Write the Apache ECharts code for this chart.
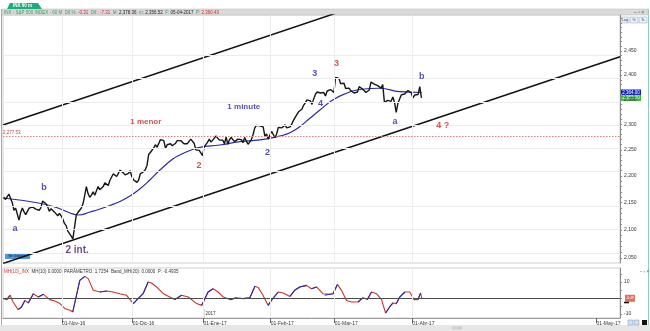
<!DOCTYPE html>
<html><head><meta charset="utf-8">
<script src="https://cdn.jsdelivr.net/npm/echarts@6/dist/echarts.min.js"></script>
<style>html,body{margin:0;padding:0;background:#fff}#c{width:650px;height:331px}</style>
</head><body><div id="c"></div>
<script>
// ---------- DATA ----------
// x unit = trading-day index, 0 = 01-Nov-2016 ; price series: two half-sessions per day, first = 06-Oct-2016 PM
const PRICE_START = -17.25;
const price = [
2160,
2156,2153, 2166,2163, 2150,2136, 2140,2139, 2118,2132, 2140,2133,
2128,2126, 2140,2139, 2142,2144, 2138,2141, 2136,2141,
2153,2151, 2148,2143, 2134,2139, 2142,2133, 2132,2126,
2130,2126,
2120,2112, 2108,2098, 2096,2089, 2084,2085,
2127,2132, 2136,2140, 2148,2163, 2180,2167, 2160,2164,
2170,2164, 2172,2180, 2174,2177, 2180,2187, 2187,2182,
2192,2198, 2204,2203, 2199,2205, 2211,2213,
2206,2202, 2200,2205, 2210,2199, 2193,2191, 2188,2192,
2204,2205, 2208,2212, 2220,2241, 2245,2246, 2254,2260,
2255,2257, 2270,2272, 2268,2253, 2260,2262, 2262,2258,
2260,2263, 2268,2271, 2268,2265, 2262,2261, 2262,2264,
2271,2269, 2263,2250, 2249,2249, 2250,2239,
2256,2258, 2265,2271, 2265,2269, 2273,2277,
2273,2269, 2272,2269, 2262,2275, 2261,2270, 2274,2275,
2266,2268, 2271,2272, 2270,2264, 2274,2271,
2261,2265, 2270,2280, 2293,2298, 2300,2297, 2298,2295,
2277,2281, 2271,2279, 2286,2280, 2274,2281, 2294,2297,
2293,2293, 2299,2293, 2290,2295, 2301,2308, 2314,2316,
2325,2328, 2330,2338, 2343,2349, 2350,2347, 2340,2351,
2360,2365, 2365,2363, 2367,2364, 2357,2367,
2365,2370, 2366,2364, 2395,2396, 2393,2382, 2380,2383,
2372,2375, 2373,2368, 2370,2363, 2360,2365, 2376,2373,
2371,2373, 2364,2365, 2369,2385, 2387,2381, 2384,2378,
2376,2373, 2380,2344, 2343,2348, 2350,2346, 2355,2344,
2324,2342, 2345,2359, 2357,2361, 2364,2368, 2365,2363,
2353,2359, 2355,2360, 2376,2353
];
const maDay = [-17.5,-6.5,-1.2,2.4,5.0,8.3,11.3,14.2,17.2,20.2,23.1,26.1,29.1,32.9,35.0,38.0,40.9,46.9,52.8,58.8,64.7,67.7,70.6,73.6,76.6,80.4,84.5,88.4,94.4,100.3,106.8];
const maVal = [2158.7,2148.9,2140.2,2131.0,2127.3,2132.8,2138.3,2144.8,2152.2,2162.4,2175.5,2192.4,2211.4,2232.4,2240.2,2248.8,2255.0,2259.5,2265.9,2269.3,2277.1,2283.6,2295.4,2312.1,2328.6,2348.8,2362.4,2370.1,2372.6,2365.6,2364.0];
const oscDay = [-17.4,-16.4,-15.4,-14.5,-13.0,-12.0,-11.0,-10.0,-8.5,-7.0,-5.5,-3.6,-2.1,-0.6,0.9,2.4,3.2,4.2,5.3,6.8,7.8,9.3,11.3,13.3,15.2,17.2,19.2,21.2,22.6,24.1,25.6,26.6,28.1,30.1,32.0,33.5,35.5,37.5,40.0,41.5,43.4,44.9,46.4,47.9,49.9,51.8,53.8,55.8,57.3,58.3,59.7,61.2,62.2,64.2,65.7,67.7,69.1,70.6,72.6,74.1,75.6,77.5,78.0,79.5,80.5,81.8,83.0,84.5,86.0,87.9,89.4,90.7,91.9,93.4,94.9,96.1,97.3,98.3,99.3,100.3,101.8,103.3,104.5,105.7,106.5,106.9];
const oscVal = [-0.4,-1.0,1.7,-2.5,-7.3,-5.6,-1.5,-3.1,2.7,0.6,2.3,-1.0,-1.9,-3.5,-6.7,-7.7,-8.75,0.6,11,13.5,12.1,4.8,3.75,4.4,3.75,2.7,1.7,-3.5,-0.4,2.7,10,9.4,6.9,2.7,0.6,-1.0,1.7,0.6,-3.5,-4.6,3.75,5.8,3.75,0.6,-1.0,0.2,-0.4,0.2,7.3,6.5,1.7,-4.6,-1.5,3.75,3.1,1.0,4.8,6.9,7.9,5.8,6.9,2.7,1.7,2.3,2.7,8.5,4.8,-1.5,-2.5,-2.5,0.2,-1.0,3.75,2.7,-1.0,-9.4,-5.6,-3.1,-3.5,0.6,3.75,3.75,-1.0,-1.0,3.1,-0.5];
const monthTickDay = [0,21,42,62,81,104,158.75];
const monthTickLabel = ['01-Nov-16','01-Dic-16','01-Ene-17','01-Feb-17','01-Mar-17','01-Abr-17','01-May-17'];
const priceTicks = [2050,2100,2150,2200,2250,2300,2350,2400,2450];
const oscTicks = [-10,10];
const lowerChannelDay = [-17.5,165.7], lowerChannelPrice = [2040.3,2438.0];
const upperChannelDay = [-17.5,165.7], upperChannelPrice = [2298.8,2747.8];
const supportLevel = 2277.53;
const waveText  = ['a','b','2 int.','1 menor','2','1 minute','2','3','4','3','a','b','4 ?'];
const waveDay   = [-13.9,-5.3,4.5,24.9,40.7,54.0,61.0,75.1,76.8,81.5,98.9,106.8,113.1];
const wavePrice = [2102.7,2178.4,2063.8,2304.5,2220.7,2334.5,2245.7,2401.9,2342.0,2424.2,2305.1,2396.3,2298.6];
const waveDegree= ['minute','minute','intermediate','minor','minor','minute','minute','minute','minute','minor','minute','minute','minor'];
const headerText = ['INX - S&P 500 INDEX - 60 M','-0.31','-7.31','2,378.36','2,356.52','05-04-2017','2,360.43'];

// ---------- STYLE ----------
const FONT = 'Liberation Sans';
const degreeColor = {minute:'#26269e', minor:'#c0282c', intermediate:'#4c1c64'};
const degreeSize = {'2 int.':10,'1 minute':8,'1 menor':8};
const xMin = -17.5, xMax = 165.7;
const yMinPrice = 2041.2, yMaxPrice = 2527.1;
const L = Math.log;

const chart = echarts.init(document.getElementById('c'), null, {renderer:'canvas'});

const priceData = price.map((p,i)=>[PRICE_START + 0.5*i, L(p)]);
const maData = maDay.map((d,i)=>[d, L(maVal[i])]);
const oscData = oscDay.map((d,i)=>[d, oscVal[i]]);
const oscUp = [];
for (let i=0;i<oscDay.length-1;i++){
  if (oscVal[i+1] > oscVal[i]) {
    const last = oscUp[oscUp.length-1];
    if (!last || last[0] !== oscDay[i] || last[1] === '-') {
      if (oscUp.length) oscUp.push([oscDay[i], '-']);
      oscUp.push([oscDay[i], oscVal[i]]);
    }
    oscUp.push([oscDay[i+1], oscVal[i+1]]);
  }
}
const gridV = monthTickDay.slice(0,6).map(d=>({xAxis:d}));
const gridH = priceTicks.map(p=>({yAxis:L(p)}));
const minorTicks = [];
for (let p=2050;p<=2520;p+=10) minorTicks.push(L(p));

const option = {
  animation:false,
  backgroundColor:'#fff',
  textStyle:{fontFamily:FONT},
  grid:[
    {left:3, top:15, width:617, height:248, show:true, borderColor:'#cfcfcf', borderWidth:1},
    {left:3, top:268, width:617, height:50, show:true, borderColor:'#cfcfcf', borderWidth:1}
  ],
  xAxis:[
    {type:'value', gridIndex:0, min:xMin, max:xMax, axisLabel:{show:false}, axisTick:{show:false}, axisLine:{show:false, onZero:false}, splitLine:{show:false}},
    {type:'value', gridIndex:1, min:xMin, max:xMax,
      axisLine:{show:true, onZero:false, lineStyle:{color:'#9a9a9a'}},
      axisTick:{show:true, customValues:monthTickDay, length:5, lineStyle:{color:'#666'}},
      axisLabel:{show:true, customValues:monthTickDay, align:'left', margin:3, fontSize:5, color:'#333', fontFamily:FONT,
        formatter:(v)=>{let k=0,b=1e9;monthTickDay.forEach((d,i)=>{if(Math.abs(d-v)<b){b=Math.abs(d-v);k=i;}});return monthTickLabel[k];}},
      splitLine:{show:false}}
  ],
  yAxis:[
    {type:'value', gridIndex:0, position:'right', min:L(yMinPrice), max:L(yMaxPrice),
      axisLine:{show:true, onZero:false, lineStyle:{color:'#8a8a8a'}},
      axisTick:{show:true, customValues:minorTicks, length:2, lineStyle:{color:'#888'}},
      axisLabel:{show:true, customValues:priceTicks.map(L), margin:4, fontSize:5, color:'#333', fontFamily:FONT,
        formatter:(v)=>Math.round(Math.exp(v)).toLocaleString('en-US')},
      splitLine:{show:false}},
    {type:'value', gridIndex:1, position:'right', min:-12.5, max:18.75,
      axisLine:{show:true, onZero:false, lineStyle:{color:'#8a8a8a'}},
      axisTick:{show:true, customValues:[-10,-5,0,5,10,15], length:2, lineStyle:{color:'#888'}},
      axisLabel:{show:true, customValues:oscTicks, margin:4, fontSize:5, color:'#333', fontFamily:FONT},
      splitLine:{show:false}}
  ],
  series:[
    {type:'line', name:'grid', xAxisIndex:0, yAxisIndex:0, data:[], z:0, silent:true,
      markLine:{silent:true, symbol:'none', label:{show:false}, lineStyle:{color:'#ececec', width:1, type:'solid'}, data:gridV.concat(gridH)}},
    {type:'line', name:'upper', xAxisIndex:0, yAxisIndex:0, data:upperChannelDay.map((d,i)=>[d,L(upperChannelPrice[i])]), symbol:'none', clip:true, z:2,
      lineStyle:{color:'#111', width:1.5}},
    {type:'line', name:'lower', xAxisIndex:0, yAxisIndex:0, data:lowerChannelDay.map((d,i)=>[d,L(lowerChannelPrice[i])]), symbol:'none', clip:true, z:2,
      lineStyle:{color:'#111', width:1.5},
      markLine:{silent:true, symbol:'none', lineStyle:{color:'#d98080', width:1.2, type:[1.5,1.5]},
        label:{show:true, position:'insideStartTop', formatter:supportLevel.toLocaleString('en-US',{minimumFractionDigits:2}), fontSize:4.5, color:'#c04040', distance:[0,1]},
        data:[{yAxis:L(supportLevel)}]}},
    {type:'line', name:'ma', xAxisIndex:0, yAxisIndex:0, data:maData, smooth:true, symbol:'none', z:3,
      lineStyle:{color:'#2b2ba6', width:1.2}},
    {type:'line', name:'price', xAxisIndex:0, yAxisIndex:0, data:priceData, symbol:'none', z:4,
      lineStyle:{color:'#161616', width:1.4}},
    {type:'scatter', name:'waves', xAxisIndex:0, yAxisIndex:0, symbolSize:0, z:5,
      data:waveText.map((t,i)=>({value:[waveDay[i], L(wavePrice[i])], name:t,
        label:{color:degreeColor[waveDegree[i]], fontSize:degreeSize[t]||9}})),
      label:{show:true, position:'inside', formatter:'{b}', fontWeight:'bold', fontFamily:FONT}},
    {type:'line', name:'osc', xAxisIndex:1, yAxisIndex:1, data:oscData, symbol:'none', z:3,
      lineStyle:{color:'#c8342c', width:1.1},
      markLine:{silent:true, symbol:'none', label:{show:false}, lineStyle:{color:'#4a4a4a', width:1, type:'solid'}, data:[{yAxis:0}]}},
    {type:'line', name:'oscUp', xAxisIndex:1, yAxisIndex:1, data:oscUp, symbol:'none', z:4, connectNulls:false,
      lineStyle:{color:'#2b2bb0', width:1.1}},
    {type:'line', name:'grid2', xAxisIndex:1, yAxisIndex:1, data:[], z:0, silent:true,
      markLine:{silent:true, symbol:'none', label:{show:false}, lineStyle:{color:'#ececec', width:1, type:'solid'}, data:gridV}}
  ]
};
chart.setOption(option);

// ---------- decorations (positions from the chart's own scales) ----------
const maLastY = chart.convertToPixel({gridIndex:0}, [xMin, L(maVal[maVal.length-1])])[1];
const prLastY = chart.convertToPixel({gridIndex:0}, [xMin, L(price[price.length-1])])[1];
const oscLastY = chart.convertToPixel({gridIndex:1}, [xMin, oscVal[oscVal.length-1]])[1];
const yearX = chart.convertToPixel({gridIndex:1}, [monthTickDay[2], 0])[0];
const fmt2 = v=>v.toLocaleString('en-US',{minimumFractionDigits:2, maximumFractionDigits:2});
const g = [];
g.push({type:'rect', shape:{x:0,y:325,width:650,height:6}, style:{fill:'#e6e6e6'}});
g.push({type:'rect', shape:{x:452,y:326.5,width:10,height:3}, style:{fill:'#cfcfcf'}});
g.push({type:'line', shape:{x1:1.5,y1:9,x2:1.5,y2:325}, style:{stroke:'#a8a8a8', lineWidth:1}});
g.push({type:'line', shape:{x1:648.5,y1:9,x2:648.5,y2:325}, style:{stroke:'#8fcfc8', lineWidth:1}});
g.push({type:'rect', shape:{x:2,y:9,width:646,height:6}, style:{fill:'#dadada', stroke:'#b8b8b8', lineWidth:0.5}});
g.push({type:'polygon', shape:{points:[[7,9],[10,3],[38,3],[42,9]]}, style:{fill:'#1faa82'}});
g.push({type:'text', x:13, y:3.6, style:{text:'INX 60 m', font:'bold 4.5px Liberation Sans', fill:'#fff'}});
g.push({type:'text', x:4, y:10, style:{
  text:'{g|'+headerText[0]+'}  {g|Dif.%:} {r|'+headerText[1]+'}  {g|Dif.:} {r|'+headerText[2]+'}  {g|M:} {k|'+headerText[3]+'}  {g|m:} {k|'+headerText[4]+'}  {g|F:} {k|'+headerText[5]+'}  {g|P:} {r|'+headerText[6]+'}',
  font:'4.5px Liberation Sans',
  rich:{g:{fill:'#3f9a5a', fontSize:4.5, fontFamily:FONT}, r:{fill:'#d02c2c', fontSize:4.5, fontFamily:FONT}, k:{fill:'#222', fontSize:4.5, fontFamily:FONT}}}});
g.push({type:'text', x:634, y:10, style:{text:'– ▫ ×', font:'5px Liberation Sans', fill:'#555'}});
[['Log',621],['%',630],['Tc',639]].forEach(([t,x])=>{
  g.push({type:'rect', shape:{x:x,y:17,width:8,height:6}, style:{fill:'#e8f0fa', stroke:'#9ab', lineWidth:0.5}});
  g.push({type:'text', x:x+4, y:20, style:{text:t, font:'3.5px Liberation Sans', fill:'#335', align:'center', verticalAlign:'middle'}});
});
g.push({type:'rect', shape:{x:621,y:maLastY-3,width:20,height:6}, style:{fill:'#1c1cc4'}});
g.push({type:'text', x:631, y:maLastY, style:{text:fmt2(maVal[maVal.length-1]), font:'4.5px Liberation Sans', fill:'#fff', align:'center', verticalAlign:'middle'}});
g.push({type:'rect', shape:{x:621,y:prLastY-3,width:20,height:6}, style:{fill:'#2fbf34'}});
g.push({type:'text', x:631, y:prLastY, style:{text:fmt2(price[price.length-1]), font:'4.5px Liberation Sans', fill:'#fff', align:'center', verticalAlign:'middle'}});
g.push({type:'rect', shape:{x:5,y:254,width:25,height:5}, style:{fill:'#4f97dc'}});
g.push({type:'text', x:17.5, y:256.5, style:{text:'Sin órdenes', font:'3.5px Liberation Sans', fill:'#123', align:'center', verticalAlign:'middle'}});
g.push({type:'text', x:4, y:269.5, style:{
  text:'{r|MH(10)_INX}  {k|MH(10) 0.0000  PARÁMETRO: 1,7254  Band_MH(20): 0.0000  P: -0.4935}',
  font:'4.5px Liberation Sans',
  rich:{r:{fill:'#c8342c', fontSize:4.5, fontFamily:FONT}, k:{fill:'#333', fontSize:4.5, fontFamily:FONT}}}});
g.push({type:'text', x:640, y:269.5, style:{text:'– ▫ ×', font:'4.5px Liberation Sans', fill:'#555'}});
g.push({type:'rect', shape:{x:625,y:oscLastY-4,width:10,height:7}, style:{fill:'#e0705a'}});
g.push({type:'text', x:630, y:oscLastY-0.5, style:{text:'-0.49', font:'3.5px Liberation Sans', fill:'#fff', align:'center', verticalAlign:'middle'}});
g.push({type:'rect', shape:{x:624,y:oscLastY+3,width:5,height:1.5}, style:{fill:'#111'}});
g.push({type:'line', shape:{x1:yearX+0.5,y1:309,x2:yearX+0.5,y2:318}, style:{stroke:'#777', lineWidth:0.7}});
g.push({type:'text', x:yearX+2, y:311, style:{text:'2017', font:'4.5px Liberation Sans', fill:'#333'}});
g.push({type:'rect', shape:{x:628,y:320,width:5,height:5}, style:{fill:'#cfe0f5', stroke:'#89a', lineWidth:0.5}});
g.push({type:'rect', shape:{x:634,y:320,width:5,height:5}, style:{fill:'#cfe0f5', stroke:'#89a', lineWidth:0.5}});
g.push({type:'rect', shape:{x:642,y:320,width:5,height:5}, style:{fill:'#111'}});
chart.setOption({graphic:g});
</script></body></html>
